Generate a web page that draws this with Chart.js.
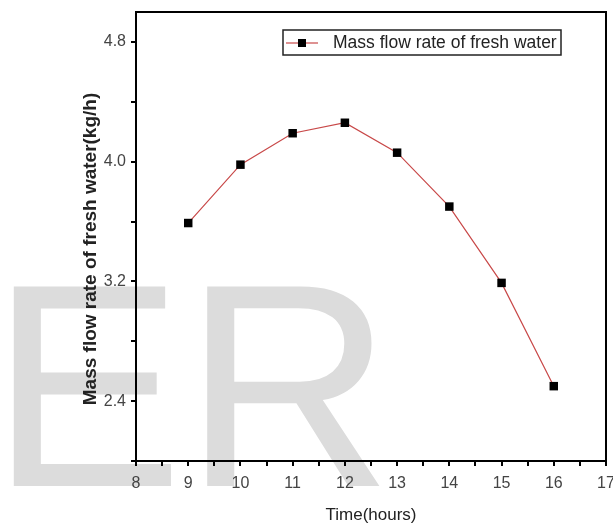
<!DOCTYPE html>
<html>
<head>
<meta charset="utf-8">
<script src="https://cdn.jsdelivr.net/npm/chart.js@4/dist/chart.umd.min.js"></script>
<style>
  html, body { margin: 0; padding: 0; background: #fff; }
  #wrap { width: 613px; height: 523px; }
</style>
</head>
<body>
<div id="wrap"><canvas id="chart" width="613" height="523"></canvas></div>
<script>
// data
const hours = [9, 10, 11, 12, 13, 14, 15, 16];
const flowRate = [3.59, 3.98, 4.19, 4.26, 4.06, 3.70, 3.19, 2.50];
const xLabelTicks = [8, 9, 10, 11, 12, 13, 14, 15, 16, 17];
const yLabelTicks = [2.4, 3.2, 4.0, 4.8];
const seriesName = "Mass flow rate of fresh water";
const xTitle = "Time(hours)";
const yTitle = "Mass flow rate of fresh water(kg/h)";
const watermark = "ER";

const tickFont = { family: "'Liberation Sans', Arial, sans-serif", size: 16 };

// frame, watermark, titles and legend
const decor = {
  id: "decor",
  beforeDraw(chart) {
    const ctx = chart.ctx;
    ctx.save();
    ctx.fillStyle = "#dcdcdc";
    ctx.font = "290px 'Liberation Sans', Arial, sans-serif";
    ctx.textBaseline = "alphabetic";
    ctx.fillText(watermark, -10, 486);
    ctx.restore();
  },
  afterDraw(chart) {
    const ctx = chart.ctx;
    const a = chart.chartArea;
    ctx.save();
    // top and right border
    ctx.strokeStyle = "#000";
    ctx.lineWidth = 2;
    ctx.beginPath();
    ctx.moveTo(a.left, a.top);
    ctx.lineTo(a.right, a.top);
    ctx.lineTo(a.right, a.bottom);
    ctx.stroke();

    // axis titles
    ctx.fillStyle = "#222";
    ctx.textAlign = "center";
    ctx.textBaseline = "top";
    ctx.font = "17px 'Liberation Sans', Arial, sans-serif";
    ctx.fillText(xTitle, (a.left + a.right) / 2, 507);
    ctx.textBaseline = "middle";
    ctx.translate(91, 249);
    ctx.rotate(-Math.PI / 2);
    ctx.font = "bold 19px 'Liberation Sans', Arial, sans-serif";
    ctx.fillText(yTitle, 0, 0);
    ctx.setTransform(1, 0, 0, 1, 0, 0);

    // legend
    ctx.fillStyle = "#fff";
    ctx.fillRect(283, 30, 278, 25);
    ctx.strokeStyle = "#222";
    ctx.lineWidth = 1.5;
    ctx.strokeRect(283, 30, 278, 25);
    ctx.strokeStyle = "#c84848";
    ctx.lineWidth = 1.2;
    ctx.beginPath();
    ctx.moveTo(286, 43);
    ctx.lineTo(318, 43);
    ctx.stroke();
    ctx.fillStyle = "#000";
    ctx.fillRect(298, 39, 8, 8);
    ctx.fillStyle = "#222";
    ctx.textAlign = "left";
    ctx.font = "17.5px 'Liberation Sans', Arial, sans-serif";
    ctx.fillText(seriesName, 333, 43);
    ctx.restore();
  }
};

new Chart(document.getElementById("chart"), {
  type: "line",
  data: {
    datasets: [{
      label: seriesName,
      data: hours.map((h, i) => ({ x: h, y: flowRate[i] })),
      borderColor: "#c84848",
      borderWidth: 1.2,
      pointStyle: "rect",
      pointRadius: 6,
      pointBackgroundColor: "#000",
      pointBorderColor: "#000",
      pointBorderWidth: 0,
      tension: 0
    }]
  },
  options: {
    responsive: false,
    animation: false,
    layout: { padding: { top: 12, right: 7, left: 0, bottom: 0 } },
    plugins: { legend: { display: false }, tooltip: { enabled: false } },
    scales: {
      x: {
        type: "linear",
        min: 8,
        max: 17,
        afterBuildTicks: s => {
          const t = [];
          for (let v = 8; v <= 17.001; v += 0.5) t.push({ value: v });
          s.ticks = t;
        },
        afterFit: s => { s.height = 62; s.paddingLeft = 0; s.paddingRight = 0; },
        ticks: {
          autoSkip: false,
          maxRotation: 0,
          padding: 8,
          color: "#444",
          font: tickFont,
          callback: v => xLabelTicks.includes(v) ? String(v) : ""
        },
        grid: { drawOnChartArea: false, tickLength: 5, color: "#000", lineWidth: 2 },
        border: { color: "#000", width: 2 }
      },
      y: {
        type: "linear",
        min: 2,
        max: 5,
        afterBuildTicks: s => {
          const t = [];
          for (let k = 0; k <= 7; k++) t.push({ value: Math.round((2 + k * 0.4) * 10) / 10 });
          s.ticks = t;
        },
        afterFit: s => { s.width = 136; s.paddingTop = 0; s.paddingBottom = 0; },
        ticks: {
          autoSkip: false,
          padding: 5,
          color: "#444",
          font: tickFont,
          callback: v => yLabelTicks.some(y => Math.abs(y - v) < 1e-6) ? v.toFixed(1) : ""
        },
        grid: { drawOnChartArea: false, tickLength: 5, color: "#000", lineWidth: 2 },
        border: { color: "#000", width: 2 }
      }
    }
  },
  plugins: [decor]
});
</script>
</body>
</html>
